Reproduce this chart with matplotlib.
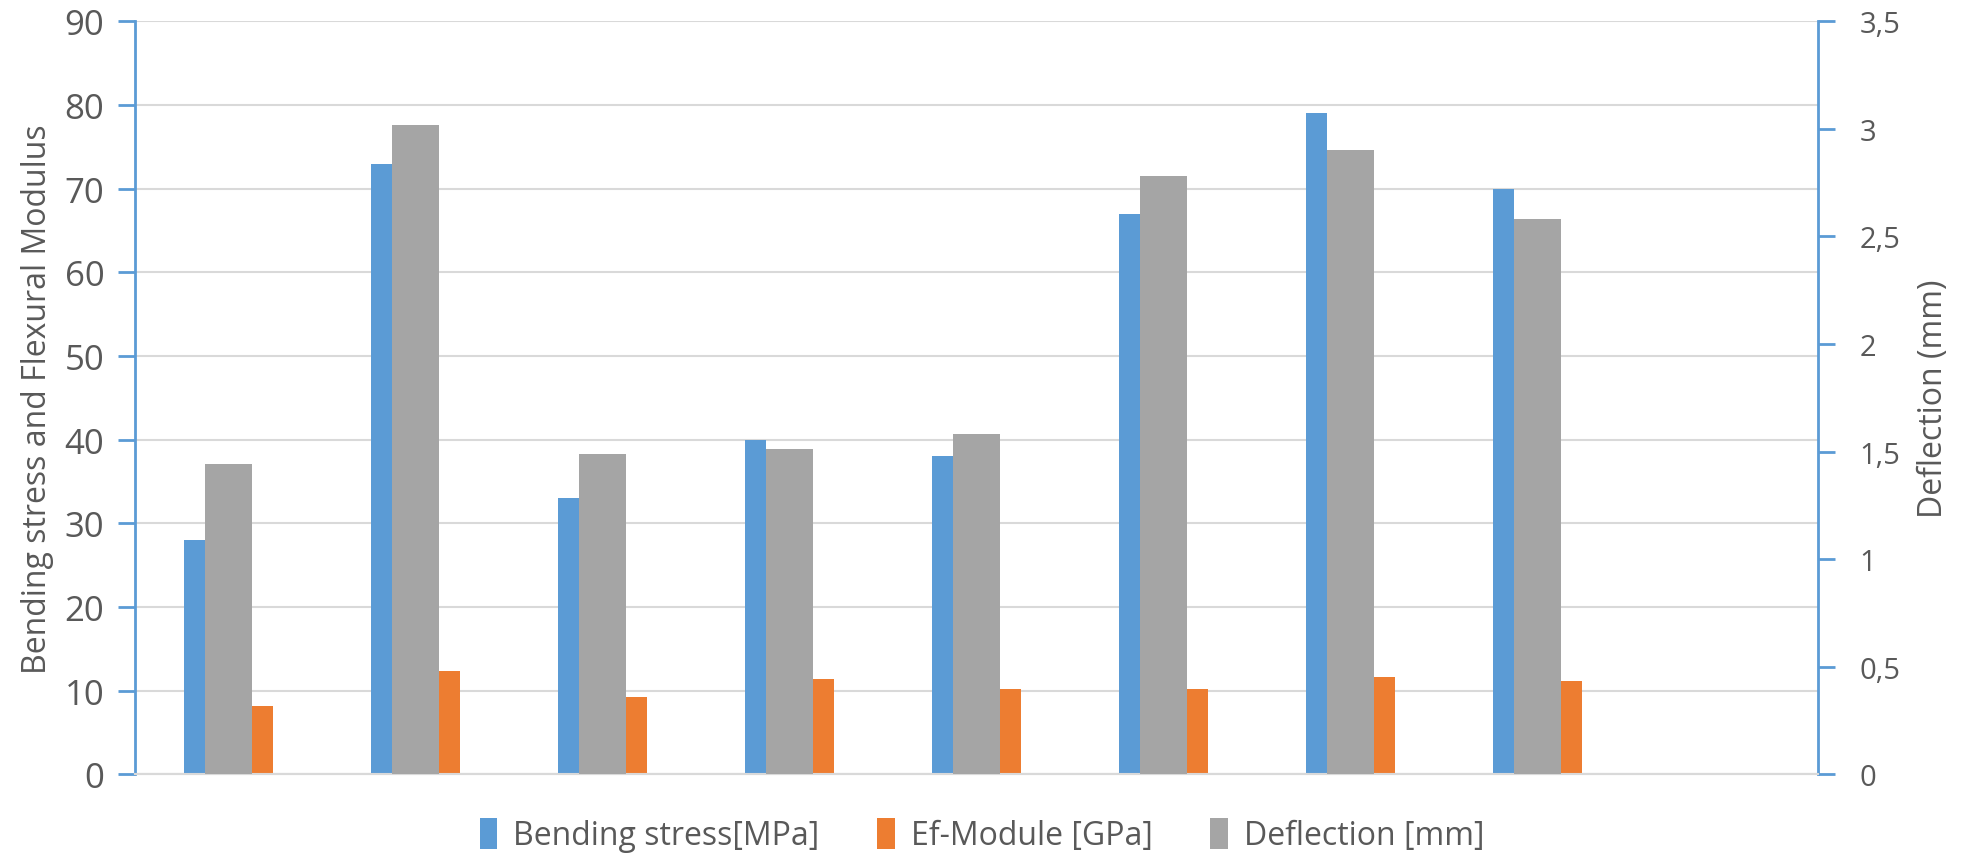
import matplotlib.pyplot as plt
import numpy as np
from matplotlib.ticker import FuncFormatter, MultipleLocator

plt.rcParams['font.family'] = ['Open Sans', 'DejaVu Sans']

# eight specimens, one empty slot at the end of the category axis
n_slots = 9
bending = [28, 73, 33, 40, 38, 67, 79, 70]            # MPa
ef_module = [8.2, 12.4, 9.2, 11.4, 10.2, 10.15, 11.6, 11.2]  # GPa
deflection = [1.44, 3.02, 1.49, 1.51, 1.58, 2.78, 2.90, 2.58]  # mm

blue = '#5B9BD5'
orange = '#ED7D31'
grey = '#A5A5A5'
txt = '#595959'

x = np.arange(len(bending)) + 0.5

fig = plt.figure(figsize=(19.64, 8.62), dpi=100)
ax = fig.add_axes([0.0687, 0.1006, 0.8569, 0.8735])
ax2 = ax.twinx()

w_small = 0.1123
w_big = 0.2513
ax.bar(x - 0.1818, bending, width=w_small, color=blue, label='Bending stress[MPa]', zorder=3)
ax.bar(x + 0.1818, ef_module, width=w_small, color=orange, label='Ef-Module [GPa]', zorder=3)
ax2.bar(x, deflection, width=w_big, color=grey, label='Deflection [mm]', zorder=3)

ax.set_xlim(0, n_slots)
ax.set_ylim(0, 90)
ax2.set_ylim(0, 3.5)
ax.yaxis.set_major_locator(MultipleLocator(10))
ax2.yaxis.set_major_locator(MultipleLocator(0.5))
ax2.yaxis.set_major_formatter(FuncFormatter(lambda v, p: ('%g' % v).replace('.', ',')))

ax.grid(axis='y', color='#D9D9D9', linewidth=1.5, zorder=0)
ax.set_xticks([])
ax.set_axisbelow(True)

for a in (ax, ax2):
    a.spines['top'].set_visible(False)
    a.spines['bottom'].set_color('#D9D9D9')
    a.spines['bottom'].set_linewidth(1.5)
ax.spines['right'].set_visible(False)
ax2.spines['left'].set_visible(False)
ax.spines['left'].set_color(blue)
ax.spines['left'].set_linewidth(2)
ax2.spines['right'].set_color(blue)
ax2.spines['right'].set_linewidth(2)

ax.tick_params(axis='y', colors=blue, labelcolor=txt, labelsize=25, length=12, width=2, pad=10)
ax2.tick_params(axis='y', colors=blue, labelcolor=txt, labelsize=21, length=12, width=2, pad=18)

ax.set_ylabel('Bending stress and Flexural Modulus', fontsize=23, color=txt, labelpad=8)
ax2.set_ylabel('Deflection (mm)', fontsize=23, color=txt, labelpad=12)

h1, l1 = ax.get_legend_handles_labels()
h2, l2 = ax2.get_legend_handles_labels()
fig.legend(h1 + h2, l1 + l2, loc='center', bbox_to_anchor=(0.5, 0.03), ncol=3,
           frameon=False, fontsize=23, labelcolor=txt, handlelength=0.55, handleheight=1.1,
           handletextpad=0.5, columnspacing=1.8)

fig.savefig('out.png', dpi=100)
